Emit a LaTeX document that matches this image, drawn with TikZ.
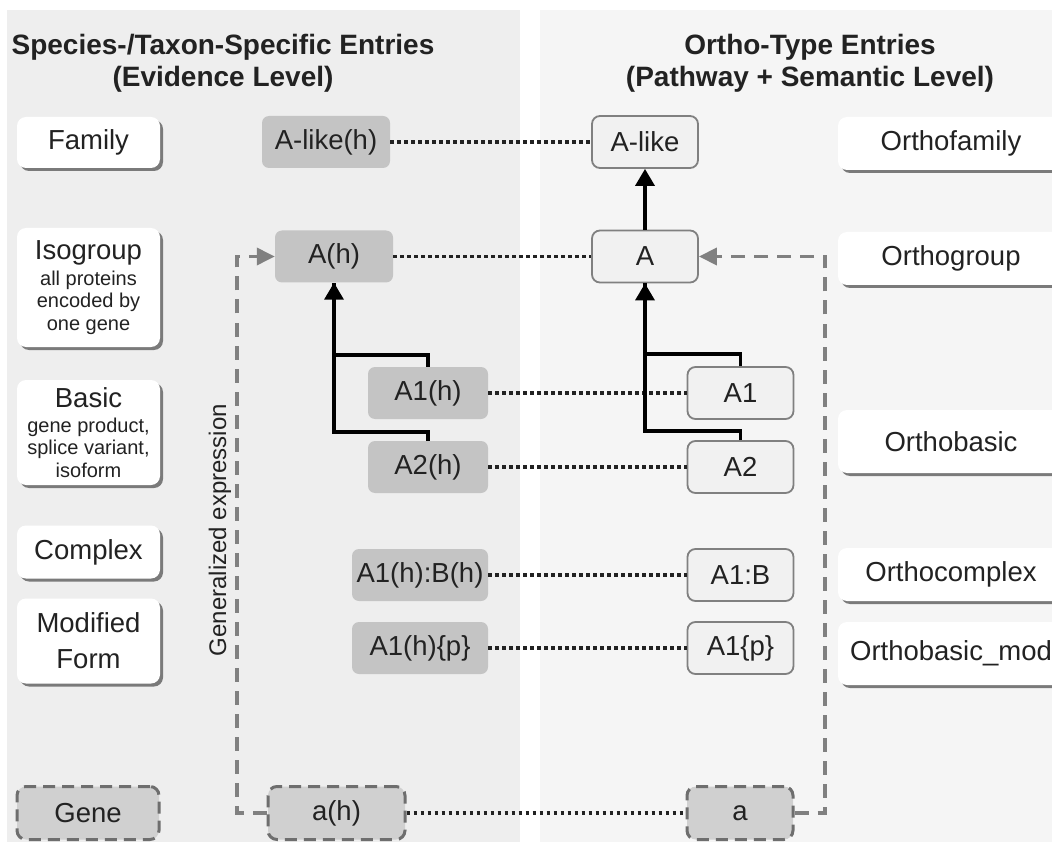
\documentclass[tikz,border=0pt]{standalone}
\usepackage{fontspec}
\setmainfont{Liberation Sans}
\usetikzlibrary{arrows.meta,shadows}

\definecolor{panelL}{HTML}{EEEEEE}
\definecolor{panelR}{HTML}{F5F5F5}
\definecolor{evid}{HTML}{C4C4C4}
\definecolor{ortho}{HTML}{F1F1F1}
\definecolor{orthoedge}{HTML}{808080}
\definecolor{genefill}{HTML}{D0D0D0}
\definecolor{geneedge}{HTML}{6E6E6E}
\definecolor{shade}{HTML}{7A7A7A}
\definecolor{gexpr}{HTML}{808080}
\definecolor{ink}{HTML}{222222}

\begin{document}
\begin{tikzpicture}[x=1pt,y=-1pt,
  lbl/.style={font=\fontsize{27.5}{32}\selectfont, text=ink},
  levelbox/.style={lbl, fill=white, rounded corners=9pt, inner sep=0pt, align=center,
    drop shadow={shadow xshift=3pt, shadow yshift=-3pt, fill=shade, opacity=1}},
  smalltext/.style={font=\fontsize{20}{22.5}\selectfont},
  evbox/.style={lbl, fill=evid, rounded corners=7pt, inner sep=0pt, minimum height=52pt},
  obox/.style={lbl, fill=ortho, draw=orthoedge, line width=1.8pt, rounded corners=8pt,
    inner sep=0pt, minimum width=106pt, minimum height=52pt},
  genebox/.style={lbl, fill=genefill, draw=geneedge, line width=3pt,
    dash pattern=on 12pt off 7pt, rounded corners=9pt, inner sep=0pt, minimum height=53pt},
  dotlink/.style={draw=ink, line width=3.4pt, dash pattern=on 3.4pt off 3.6pt},
  tree/.style={draw=black, line width=3.5pt},
  treearrow/.style={tree, -{Triangle[length=17pt,width=19pt]}},
  genexp/.style={draw=gexpr, line width=3.5pt, dash pattern=on 14pt off 9pt},
  genarrow/.style={genexp, -{Triangle[length=18pt,width=17pt]}},
  title/.style={font=\fontsize{28}{32}\selectfont\bfseries, align=center, text=ink},
]
\clip (0,0) rectangle (1052,842);
\fill[white] (0,0) rectangle (1052,842);

% two panels
\fill[panelL] (7,10) rectangle (520,842);
\fill[panelR] (540,10) rectangle (1052,842);

% headings
\node[title] (tl) at (223,63) {Species-/Taxon-Specific Entries\\(Evidence Level)};
\node[title] (tr) at (810,63) {Ortho-Type Entries\\(Pathway + Semantic Level)};

% level labels, left column
\node[levelbox, minimum width=143pt, minimum height=51pt] (fam) at (88.5,142.5) {Family};
\node[levelbox, smalltext, minimum width=143pt, minimum height=119pt] (iso) at (88.5,287.5)
  {{\fontsize{27.5}{32}\selectfont Isogroup}\\[3pt]all proteins\\encoded by\\one gene};
\node[levelbox, smalltext, minimum width=143pt, minimum height=105pt] (bas) at (88.5,432.5)
  {{\fontsize{27.5}{32}\selectfont Basic}\\[2pt]gene product,\\splice variant,\\isoform};
\node[levelbox, minimum width=143pt, minimum height=53pt] (cpx) at (88.5,552) {Complex};
\node[levelbox, minimum width=143pt, minimum height=85pt] (mod) at (88.5,641) {Modified\\[4pt]Form};
\node[genebox, minimum width=142pt] (gene) at (88,813) {Gene};

% level labels, right column
\node[levelbox, minimum width=226pt, minimum height=53pt] (ofam) at (951,143.5) {Orthofamily};
\node[levelbox, minimum width=226pt, minimum height=53pt] (ogrp) at (951,258.5) {Orthogroup};
\node[levelbox, minimum width=226pt, minimum height=63pt] (obas) at (951,441.5) {Orthobasic};
\node[levelbox, minimum width=226pt, minimum height=53pt] (ocpx) at (951,574.5) {Orthocomplex};
\node[levelbox, minimum width=226pt, minimum height=63pt] (omod) at (951,653.5) {Orthobasic\_mod};

% species-specific entries
\node[evbox, minimum width=128pt] (Alikeh) at (326,142) {A-like(h)};
\node[evbox, minimum width=118pt] (Ah) at (334,256.5) {A(h)};
\node[evbox, minimum width=120pt] (A1h) at (428,393) {A1(h)};
\node[evbox, minimum width=120pt] (A2h) at (428,467) {A2(h)};
\node[evbox, minimum width=136pt] (A1Bh) at (420,575) {A1(h):B(h)};
\node[evbox, minimum width=136pt] (A1ph) at (420,648) {A1(h)\{p\}};
\node[genebox, minimum width=137pt] (ah) at (336.5,813) {a(h)};

% ortho-type entries
\node[obox] (Alike) at (645,142) {A-like};
\node[obox] (A) at (645,256.5) {A};
\node[obox] (A1) at (740.5,393) {A1};
\node[obox] (A2) at (740.5,467) {A2};
\node[obox] (A1B) at (740.5,575) {A1:B};
\node[obox] (A1p) at (740.5,648) {A1\{p\}};
\node[genebox, minimum width=106pt] (a) at (740,813) {a};

% correspondences between the two levels
\draw[dotlink] (Alikeh.east) -- (Alike.west);
\draw[dotlink] (Ah.east) -- (A.west);
\draw[dotlink] (A1h.east) -- (A1.west);
\draw[dotlink] (A2h.east) -- (A2.west);
\draw[dotlink] (A1Bh.east) -- (A1B.west);
\draw[dotlink] (A1ph.east) -- (A1p.west);
\draw[dotlink] (ah.east) -- (a.west);

% hierarchy, evidence side
\draw[tree] (A1h.north) -- ++(0,-12) -| (Ah.south);
\draw[treearrow] (A2h.north) -- ++(0,-9) -| (Ah.south);

% hierarchy, ortho side
\draw[tree] (A1.north) -- ++(0,-12) -| (A.south);
\draw[treearrow] (A2.north) -- ++(0,-9) -| (A.south);
\draw[treearrow] (A.north) -- (Alike.south);

% generalized expression from gene to isogroup
\coordinate (gl) at (237,813);
\coordinate (gr) at (825,813);
\draw[genarrow] (ah.west) -- (gl) |- (Ah.west);
\draw[genarrow] (a.east) -- (gr) |- (A.east);
\node[font=\fontsize{24}{28}\selectfont, text=ink, rotate=90, anchor=base] (gx) at (226,530) {Generalized expression};
\end{tikzpicture}
\end{document}
